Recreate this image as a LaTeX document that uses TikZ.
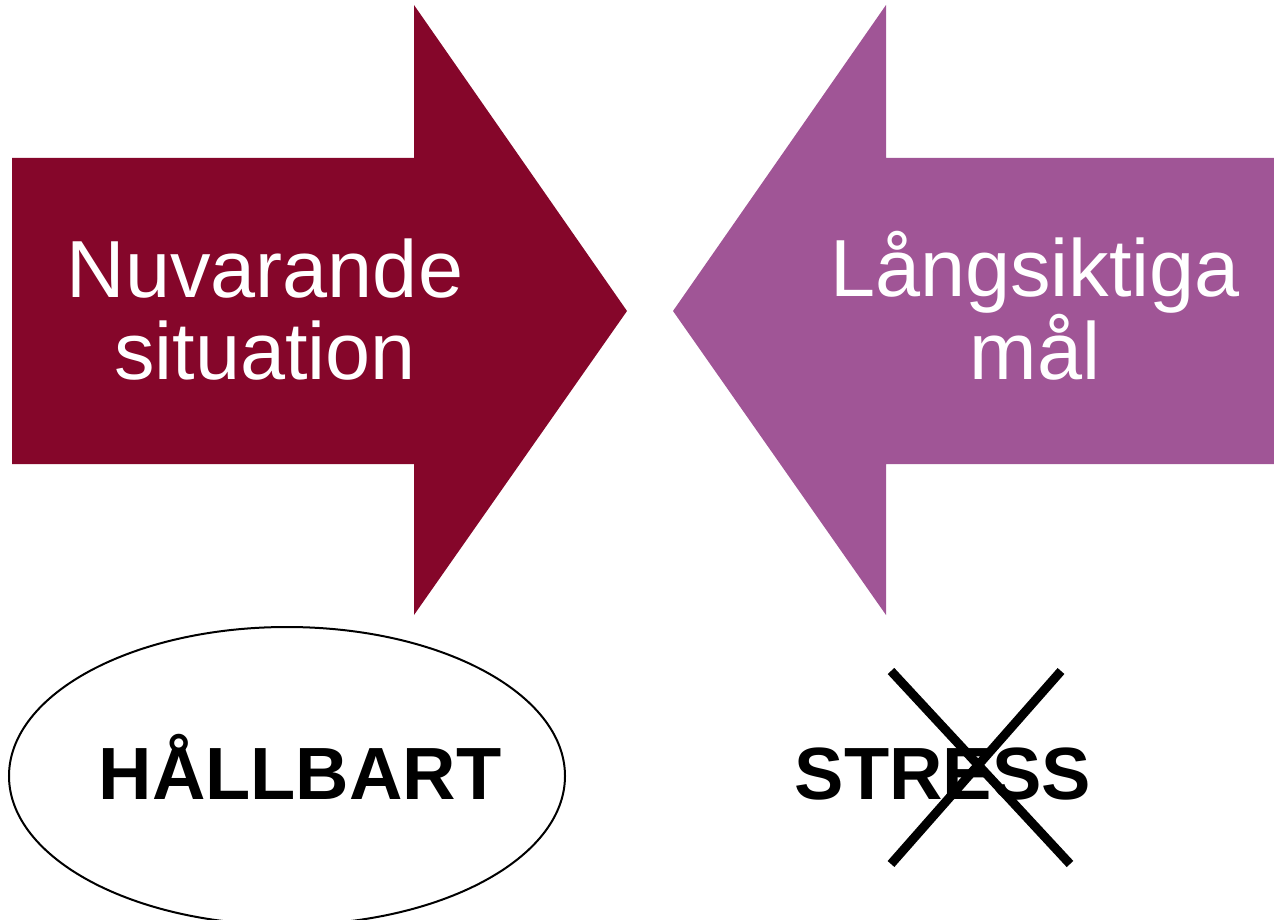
\documentclass[tikz,border=0pt]{standalone}
\usepackage{fontspec}
\setmainfont{Liberation Sans}
\usetikzlibrary{shapes.geometric}
\definecolor{nowred}{HTML}{85062A}
\definecolor{goalpurple}{HTML}{A05596}
\begin{document}
\begin{tikzpicture}%
	[x=1pt, y=-1pt,
	nowarrow/.style={fill=nowred, draw=none},
	goalarrow/.style={fill=goalpurple, draw=none},
	arrowtext/.style={color=white, align=center, font=\fontsize{81}{82}\selectfont},
	wordtext/.style={anchor=base, font=\bfseries\fontsize{74}{80}\selectfont},
	oval/.style={ellipse, draw=black, line width=2pt, minimum width=556, minimum height=298, inner sep=0pt},
	crossline/.style={color=black, line width=9pt}]
	\useasboundingbox (0,0) rectangle (1274,920);

	%arrows
	\fill[nowarrow] (12,158) -- (414,158) -- (414,5) -- (627,311) -- (414,615) -- (414,464) -- (12,464) -- cycle;
	\fill[goalarrow] (1274,158) -- (886,158) -- (886,5) -- (673,311) -- (886,615) -- (886,464) -- (1274,464) -- cycle;
	\node[arrowtext] (now) at (265,310) {Nuvarande\\situation};
	\node[arrowtext] (goal) at (1035,306) {Långsiktiga\\mål};

	%words
	\node[oval] (oval) at (287,776) {};
	\node[wordtext] (hallbart) at (300,799) {HÅLLBART};
	\node[wordtext] (stress) at (943,799) {STRESS};

	\coordinate (c1) at (891,671);
	\coordinate (c2) at (1070,864);
	\coordinate (c3) at (1061,671);
	\coordinate (c4) at (891,864);
	\draw[crossline] (c1) -- (c2);
	\draw[crossline] (c3) -- (c4);
\end{tikzpicture}
\end{document}
